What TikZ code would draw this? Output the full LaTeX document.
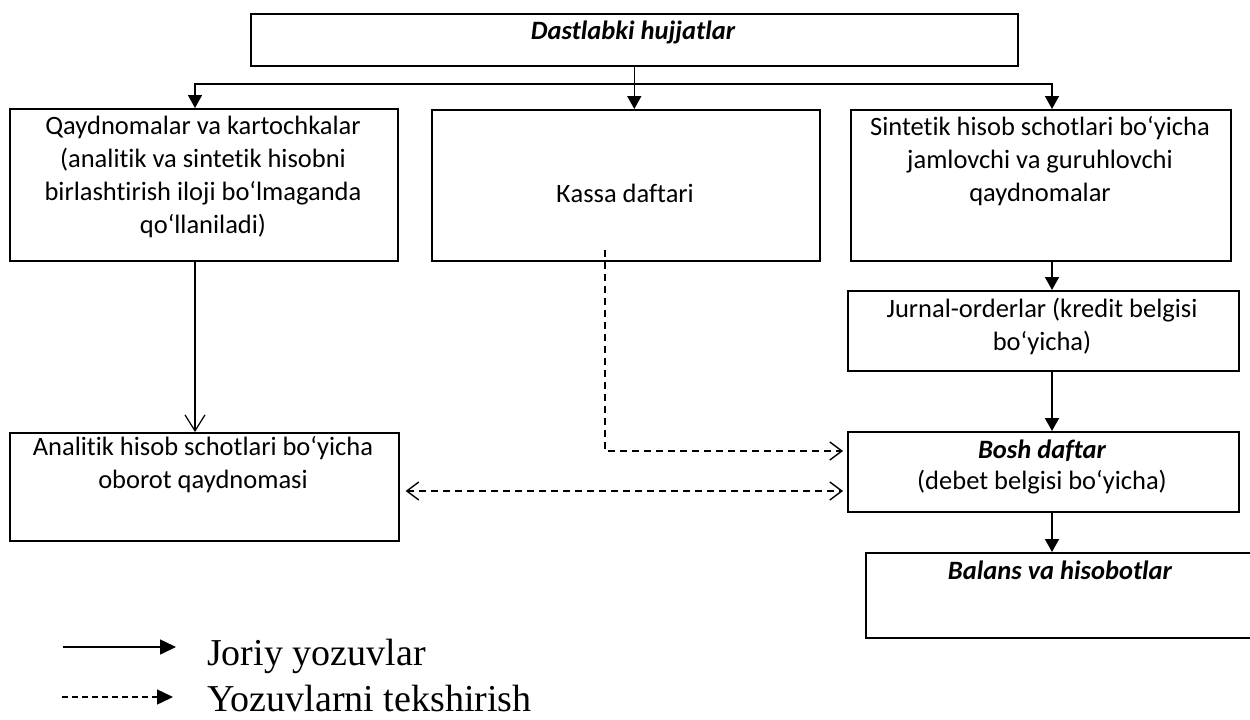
\documentclass[tikz,border=0pt]{standalone}
\usepackage{fontspec}
\setmainfont{Carlito}[Ligatures={NoCommon,NoContextual}]
\newfontfamily\legendfont{Liberation Serif}
\usetikzlibrary{arrows.meta,calc}

\begin{document}
\begin{tikzpicture}[x=1pt,y=-1pt,
  box/.style={draw, line width=1.6pt, inner sep=0pt, anchor=north west},
  txt/.style={font=\fontsize{26.5}{33}\selectfont, align=center, inner sep=0pt},
  ttl/.style={txt, font=\fontsize{26.5}{33}\selectfont\bfseries\itshape},
  plain/.style={line width=1.6pt},
  flow/.style={line width=1.6pt, -{Triangle[length=13pt,width=14pt]}},
  openflow/.style={line width=1.2pt, -{Straight Barb[length=16pt,width=20pt,line width=1.2pt]}},
  check/.style={line width=1.6pt, dash pattern=on 7pt off 5pt,
    -{Straight Barb[length=12pt,width=18pt,line width=1.4pt]}, shorten >=4pt},
  checkboth/.style={line width=1.6pt, dash pattern=on 7pt off 5pt,
    {Straight Barb[length=12pt,width=18pt,line width=1.4pt]}-{Straight Barb[length=12pt,width=18pt,line width=1.4pt]},
    shorten >=4pt, shorten <=6pt},
  legendflow/.style={line width=1.6pt, -{Triangle[length=16pt,width=15pt]}},
  legendcheck/.style={line width=1.4pt, dash pattern=on 6pt off 4pt, -{Triangle[length=16pt,width=15pt]}},
  legendtxt/.style={anchor=base west, inner sep=0pt, font=\legendfont\fontsize{38}{40}\selectfont}
]
\useasboundingbox (0,0) rectangle (1250,720);

% boxes
\node[box, minimum width=767pt, minimum height=52pt] (top) at (250,13) {};
\node[box, minimum width=388pt, minimum height=152pt] (qay) at (9,108) {};
\node[box, minimum width=388pt, minimum height=151pt] (kassa) at (431,109) {};
\node[box, minimum width=380pt, minimum height=151pt] (sin) at (850,109) {};
\node[box, minimum width=391pt, minimum height=80pt] (jur) at (847,290) {};
\node[box, minimum width=391pt, minimum height=80pt] (bosh) at (847,431) {};
\node[box, minimum width=397pt, minimum height=85pt] (bal) at (865,552) {};
\node[box, minimum width=389pt, minimum height=108pt] (ana) at (9,432) {};

% box texts
\node[ttl] (topT) at (633,32) {Dastlabki hujjatlar};
\node[txt] (qayT) at (203,177) {Qaydnomalar va kartochkalar\\(analitik va sintetik hisobni\\birlashtirish iloji bo‘lmaganda\\qo‘llaniladi)};
\node[txt] (kassaT) at (625,193) {Кassa daftari};
\node[txt] (sinT) at (1040,161) {Sintetik hisob schotlari bo‘yicha\\jamlovchi va guruhlovchi\\qaydnomalar};
\node[txt] (jurT) at (1042,326) {Jurnal-orderlar (kredit belgisi\\bo‘yicha)};
\node[ttl] (boshT) at (1042,451) {Bosh daftar};
\node[txt] (boshT2) at (1042,482) {(debet belgisi bo‘yicha)};
\node[ttl] (balT) at (1060,570) {Balans va hisobotlar};
\node[txt] (anaT) at (203,465) {Analitik hisob schotlari bo‘yicha\\oborot qaydnomasi};

% guide coordinates
\coordinate (bus) at (0,84);
\coordinate (lcol) at (195,0);
\coordinate (rcol) at (1052,0);
\coordinate (kcol) at (605,0);
\coordinate (klow) at (0,451);
\coordinate (kstart) at (0,250);
\coordinate (cmp) at (0,491);

% distribution from the source documents
\draw[plain] (top.south) -- (top.south |- bus);
\draw[flow] (top.south |- bus) -| (qay.north -| lcol);
\draw[flow] (top.south |- bus) -| (sin.north -| rcol);
\draw[flow] (top.south |- bus) -- (kassa.north -| top.south);

% right column chain
\draw[flow] (sin.south -| rcol) -- (jur.north -| rcol);
\draw[flow] (jur.south -| rcol) -- (bosh.north -| rcol);
\draw[flow] (bosh.south -| rcol) -- (bal.north -| rcol);

% left column
\draw[openflow] (qay.south -| lcol) -- (ana.north -| lcol);

% checks
\draw[check] (kcol |- kstart) -- (kcol |- klow) -- (bosh.west |- klow);
\draw[checkboth] (ana.east |- cmp) -- (bosh.west |- cmp);

% legend
\coordinate (l1s) at (63,647);
\coordinate (l1e) at (176,647);
\coordinate (l2s) at (62,697);
\coordinate (l2e) at (173,697);
\draw[legendflow] (l1s) -- (l1e);
\draw[legendcheck] (l2s) -- (l2e);
\node[legendtxt] (leg1) at (207,665) {Joriy yozuvlar};
\node[legendtxt] (leg2) at (207,711) {Yozuvlarni tekshirish};
\end{tikzpicture}
\end{document}
